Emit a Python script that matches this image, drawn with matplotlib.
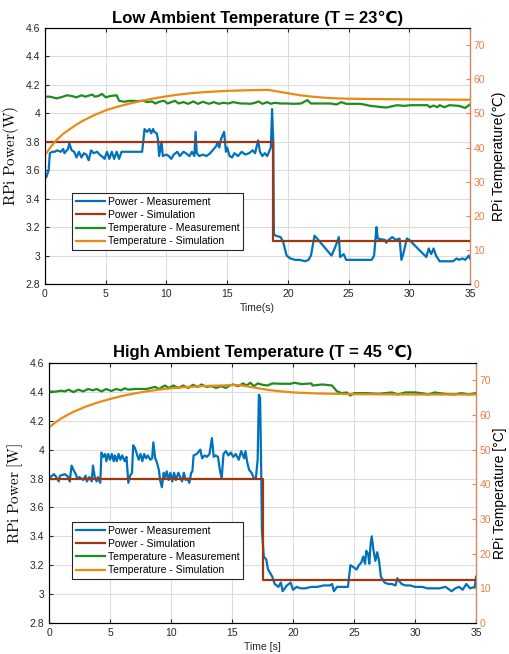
import matplotlib
matplotlib.use('Agg')
import matplotlib.pyplot as plt
from matplotlib.ticker import FuncFormatter, MultipleLocator

plt.rcParams['font.family'] = ['Liberation Sans', 'DejaVu Sans']
plt.rcParams['mathtext.fontset'] = 'cm'

# ---- low ambient (23 C) ----
low_pm_t = [0.0, 0.1, 0.3, 0.4, 0.6, 0.8, 1.0, 1.3, 1.5, 1.6, 1.9, 2.0, 2.2, 2.4, 2.6, 2.8,
            3.0, 3.2, 3.4, 3.6, 3.8, 4.0, 4.3, 4.5, 4.8, 4.9, 5.1, 5.3, 5.5, 5.7, 5.9, 6.1,
            6.3, 6.8, 7.5, 8.0, 8.2, 8.4, 8.6, 8.75, 8.9, 9.0, 9.2, 9.3, 9.4, 9.6, 9.7, 10.0,
            10.2, 10.4, 10.6, 10.9, 11.1, 11.4, 11.6, 11.9, 12.1, 12.3, 12.4, 12.5, 12.7, 13.0,
            13.3, 13.6, 13.8, 14.1, 14.2, 14.35, 14.5, 14.75, 14.9, 15.0, 15.2, 15.4, 15.6,
            15.9, 16.2, 16.5, 16.8, 17.1, 17.3, 17.55, 17.7, 17.9, 18.1, 18.3, 18.5, 18.6,
            18.7, 18.8, 18.85, 19.0, 19.4, 19.6, 19.9, 20.2, 20.6, 21.0, 21.4, 21.7, 21.9,
            22.2, 22.4, 23.0, 23.6, 23.9, 24.2, 24.3, 24.6, 24.8, 25.5, 26.2, 26.9, 27.1,
            27.3, 27.4, 28.0, 28.1, 28.3, 28.6, 28.9, 29.2, 29.35, 29.5, 29.8, 30.0, 30.7,
            31.4, 31.6, 31.8, 32.0, 32.2, 32.5, 33.0, 33.6, 33.9, 34.1, 34.4, 34.6, 34.9, 35.0]
low_pm_w = [3.58, 3.55, 3.60, 3.72, 3.73, 3.73, 3.74, 3.73, 3.75, 3.72, 3.75, 3.79, 3.74,
            3.73, 3.69, 3.73, 3.69, 3.72, 3.71, 3.67, 3.74, 3.72, 3.73, 3.71, 3.69, 3.68,
            3.73, 3.68, 3.73, 3.68, 3.73, 3.68, 3.73, 3.73, 3.73, 3.73, 3.89, 3.87, 3.89,
            3.86, 3.89, 3.87, 3.86, 3.82, 3.70, 3.80, 3.70, 3.71, 3.70, 3.68, 3.71, 3.73,
            3.70, 3.73, 3.72, 3.70, 3.73, 3.70, 3.87, 3.72, 3.70, 3.71, 3.70, 3.72, 3.74,
            3.77, 3.80, 3.76, 3.82, 3.87, 3.73, 3.76, 3.70, 3.69, 3.72, 3.70, 3.73, 3.71,
            3.72, 3.74, 3.72, 3.81, 3.73, 3.70, 3.72, 3.70, 3.74, 3.76, 4.03, 3.80, 3.15,
            3.14, 3.13, 3.10, 3.00, 2.98, 2.97, 2.97, 2.96, 2.97, 3.00, 3.14, 3.12, 3.06,
            3.00, 3.06, 3.13, 2.99, 3.01, 2.97, 2.97, 2.97, 2.97, 3.00, 3.20, 3.12, 3.11,
            3.09, 3.11, 3.13, 3.11, 3.12, 2.97, 3.01, 3.12, 3.11, 3.05, 2.99, 3.05, 3.01,
            3.05, 3.00, 2.96, 2.96, 2.96, 2.98, 2.97, 2.98, 2.97, 3.00, 2.98]
low_ps_t = [0, 18.8, 18.8, 35]
low_ps_w = [3.8, 3.8, 3.1, 3.1]
low_tm_t = [0.0, 0.4, 0.96, 1.5, 1.8, 2.2, 2.6, 3.0, 3.3, 3.7, 3.9, 4.1, 4.4, 4.7, 5.0, 5.4,
            5.9, 6.1, 6.5, 7.0, 7.6, 8.1, 8.4, 8.8, 9.1, 9.4, 9.8, 10.1, 10.4, 10.7, 11.0,
            11.4, 11.8, 12.2, 12.6, 13.0, 13.5, 13.9, 14.3, 14.7, 15.1, 15.5, 16.1, 16.5,
            16.9, 17.3, 17.6, 17.9, 18.3, 18.6, 18.9, 19.4, 19.9, 20.5, 21.1, 21.6, 21.9,
            22.7, 23.5, 24.0, 24.4, 24.8, 26.0, 26.8, 28.1, 28.6, 29.0, 29.6, 30.1, 31.5,
            31.7, 32.0, 32.3, 32.5, 32.9, 33.3, 34.1, 34.6, 35.0]
low_tm_c = [54.9, 54.9, 54.4, 54.9, 55.3, 55.1, 54.7, 55.3, 54.9, 55.3, 55.5, 54.9, 55.1,
            55.7, 54.7, 55.1, 55.3, 53.7, 53.4, 53.7, 53.6, 53.7, 53.3, 53.5, 52.9, 53.4,
            53.7, 52.9, 53.3, 53.7, 52.9, 53.3, 52.8, 53.5, 52.8, 53.4, 52.8, 53.3, 52.8,
            53.1, 52.9, 53.3, 52.9, 52.9, 52.8, 53.1, 53.5, 52.8, 53.3, 52.8, 53.1, 52.9,
            52.9, 52.8, 52.9, 53.9, 52.9, 52.9, 52.9, 52.6, 53.3, 52.8, 52.8, 52.2, 51.7,
            52.1, 52.4, 52.2, 52.4, 52.4, 51.8, 52.3, 51.8, 52.4, 51.8, 52.4, 52.2, 51.6, 52.6]
low_ts_t = [0, 0.5, 1, 1.5, 2, 2.5, 3, 3.5, 4, 5, 6, 7, 8, 9, 10, 11, 12, 13, 14, 15, 16,
            17, 18.4, 19, 20, 21, 22, 23, 24, 25, 27, 30, 35]
low_ts_c = [37.8, 40.3, 42.4, 44.0, 45.3, 46.5, 47.6, 48.5, 49.4, 50.9, 52.0, 52.9, 53.7,
            54.4, 55.0, 55.5, 55.9, 56.2, 56.4, 56.6, 56.7, 56.8, 56.9, 56.5, 55.9, 55.3,
            54.9, 54.6, 54.4, 54.3, 54.2, 54.1, 54.0]

# ---- high ambient (45 C) ----
high_pm_t = [0.0, 0.1, 0.4, 0.6, 0.8, 0.9, 1.3, 1.6, 1.7, 1.85, 2.0, 2.2, 2.3, 2.5, 2.8, 3.0,
             3.1, 3.3, 3.5, 3.6, 3.75, 3.9, 4.0, 4.2, 4.3, 4.45, 4.6, 4.7, 4.85, 5.0, 5.15,
             5.3, 5.4, 5.55, 5.7, 5.85, 6.0, 6.2, 6.35, 6.5, 6.65, 6.8, 6.9, 7.05, 7.2, 7.35,
             7.5, 7.65, 7.8, 7.95, 8.1, 8.3, 8.45, 8.55, 8.7, 8.85, 9.0, 9.1, 9.25, 9.4, 9.5,
             9.65, 9.8, 9.95, 10.1, 10.25, 10.4, 10.6, 10.75, 10.9, 11.05, 11.2, 11.35, 11.5,
             11.65, 11.75, 11.85, 12.1, 12.4, 12.55, 12.75, 12.95, 13.15, 13.35, 13.5, 13.65,
             13.85, 14.0, 14.15, 14.3, 14.5, 14.7, 14.9, 15.1, 15.3, 15.55, 15.75, 16.0, 16.1,
             16.25, 16.4, 16.6, 16.8, 16.95, 17.1, 17.2, 17.3, 17.4, 17.45, 17.6, 17.8, 17.95,
             18.1, 18.3, 18.5, 18.8, 19.0, 19.15, 19.5, 19.8, 20.0, 20.3, 20.6, 21.0, 21.5,
             22.0, 22.5, 23.0, 23.2, 23.35, 23.6, 24.0, 24.5, 24.7, 24.9, 25.2, 25.4, 25.6,
             25.75, 25.9, 26.0, 26.15, 26.25, 26.35, 26.45, 26.6, 26.75, 26.9, 27.05, 27.2,
             27.5, 27.8, 28.1, 28.4, 28.55, 28.7, 28.9, 29.2, 29.6, 30.0, 30.6, 31.0, 31.4,
             32.0, 32.5, 33.0, 33.3, 33.6, 33.9, 34.2, 34.5, 34.9, 35.0]
high_pm_w = [3.79, 3.81, 3.83, 3.81, 3.78, 3.82, 3.83, 3.81, 3.78, 3.89, 3.86, 3.83, 3.80,
             3.81, 3.79, 3.82, 3.78, 3.81, 3.78, 3.89, 3.81, 3.78, 3.81, 3.77, 3.98, 3.95,
             3.97, 3.92, 3.97, 3.93, 3.97, 3.92, 3.96, 3.92, 3.97, 3.93, 3.96, 3.92, 3.95,
             3.77, 3.82, 3.84, 4.03, 4.01, 3.97, 3.93, 3.97, 3.92, 3.97, 3.94, 3.96, 3.93,
             3.94, 4.05, 3.94, 3.91, 3.86, 3.79, 3.74, 3.84, 3.80, 3.85, 3.79, 3.84, 3.78,
             3.84, 3.79, 3.84, 3.81, 3.78, 3.84, 3.79, 3.80, 3.77, 3.84, 3.85, 3.96, 3.97,
             4.00, 3.94, 3.96, 3.95, 3.97, 4.08, 3.95, 3.96, 3.95, 3.86, 3.80, 3.97, 3.99,
             3.96, 3.98, 3.95, 3.97, 3.93, 3.99, 3.94, 3.99, 3.91, 3.86, 3.84, 3.80, 3.80,
             3.93, 4.38, 4.36, 3.80, 3.44, 3.26, 3.24, 3.17, 3.15, 3.12, 3.07, 3.05, 3.08,
             3.02, 3.06, 3.08, 3.03, 3.05, 3.04, 3.04, 3.05, 3.05, 3.06, 3.06, 3.07, 3.02,
             3.05, 3.05, 3.05, 3.20, 3.19, 3.17, 3.20, 3.22, 3.26, 3.21, 3.30, 3.28, 3.21,
             3.34, 3.40, 3.30, 3.23, 3.29, 3.23, 3.12, 3.08, 3.07, 3.07, 3.06, 3.11, 3.09,
             3.07, 3.06, 3.06, 3.05, 3.05, 3.04, 3.04, 3.04, 3.05, 3.02, 3.04, 3.05, 3.03,
             3.07, 3.04, 3.05, 3.12]
high_ps_t = [0, 17.55, 17.55, 35]
high_ps_w = [3.8, 3.8, 3.1, 3.1]
high_tm_t = [0.0, 0.5, 1.0, 1.3, 1.6, 2.0, 2.4, 2.8, 3.2, 3.6, 3.9, 4.3, 4.7, 5.1, 5.5, 5.9,
             6.2, 6.5, 7.0, 8.0, 8.7, 9.0, 9.5, 9.8, 10.2, 10.6, 11.0, 11.4, 11.8, 12.2, 12.5,
             12.9, 13.3, 13.7, 14.1, 14.5, 14.8, 15.1, 15.5, 15.9, 16.2, 16.5, 16.8, 17.1,
             17.5, 17.9, 18.3, 19.0, 19.8, 20.1, 20.7, 21.5, 21.6, 22.4, 23.2, 23.6, 24.0,
             24.4, 24.7, 25.0, 26.0, 27.0, 28.1, 28.6, 29.2, 30.0, 30.5, 31.1, 31.6, 32.4,
             33.2, 33.8, 34.4, 35.0]
high_tm_c = [66.8, 66.7, 67.0, 66.8, 67.3, 66.6, 67.3, 66.8, 67.5, 67.1, 67.5, 66.8, 67.5,
             66.9, 67.5, 67.1, 67.7, 67.3, 67.5, 67.5, 68.1, 67.5, 68.5, 67.8, 68.5, 67.8,
             68.5, 67.8, 68.7, 68.1, 68.8, 68.1, 68.3, 67.8, 68.3, 67.8, 68.5, 68.8, 68.3,
             69.1, 68.5, 69.3, 68.3, 69.1, 68.7, 68.5, 69.1, 69.0, 69.0, 69.3, 68.9, 69.1,
             68.5, 68.8, 68.5, 66.8, 66.3, 66.5, 65.6, 66.3, 66.3, 66.1, 66.5, 65.9, 66.5,
             66.5, 66.3, 65.9, 66.5, 66.1, 65.9, 66.3, 65.9, 66.3]
high_ts_t = [0, 0.5, 1, 1.5, 2, 3, 4, 5, 6, 7, 8, 9, 10, 11, 12, 13, 14, 15, 15.6, 16, 17,
             18, 19, 20, 22, 25, 30, 35]
high_ts_c = [56.4, 57.8, 59.0, 60.0, 60.9, 62.4, 63.6, 64.6, 65.5, 66.2, 66.8, 67.3, 67.7,
             68.0, 68.2, 68.4, 68.5, 68.6, 68.6, 68.4, 67.8, 67.2, 66.8, 66.5, 66.2, 66.0,
             65.9, 65.9]

legend_labels = ['Power - Measurement', 'Power - Simulation',
                 'Temperature - Measurement', 'Temperature - Simulation']

C_BLUE = '#0072BD'
C_BROWN = '#A2360E'
C_GREEN = '#1E8C1E'
C_ORANGE = '#EA8A12'
C_RIGHT = '#E8804F'
C_AX = '#262626'


def draw_panel(ax, title, ylab, y2lab, xlab, pm, ps, tm, ts, leg_anchor, pad2):
    ax.plot(pm[0], pm[1], color=C_BLUE, lw=1.6, zorder=3)
    ax.plot(ps[0], ps[1], color=C_BROWN, lw=1.6, zorder=4)
    ax.set_xlim(0, 35)
    ax.set_ylim(2.8, 4.6)
    ax.xaxis.set_major_locator(MultipleLocator(5))
    ax.yaxis.set_major_locator(MultipleLocator(0.2))
    ax.yaxis.set_major_formatter(FuncFormatter(lambda v, p: '%g' % round(v, 2)))
    ax.grid(True, color='#DCDCDC', lw=0.8)
    ax.set_axisbelow(True)
    ax.tick_params(direction='in', length=3, labelsize=7.5, colors=C_AX,
                   top=True, right=False)
    for s in ['left', 'bottom', 'top']:
        ax.spines[s].set_color(C_AX)
    ax.set_title(title, fontsize=12, fontweight='bold', pad=4)
    ax.set_ylabel(ylab, fontsize=11, labelpad=3)
    ax.set_xlabel(xlab, fontsize=7.5, labelpad=3, color=C_AX)

    ax2 = ax.twinx()
    ax2.plot(tm[0], tm[1], color=C_GREEN, lw=1.6)
    ax2.plot(ts[0], ts[1], color=C_ORANGE, lw=1.6)
    ax2.set_ylim(0, 75)
    ax2.yaxis.set_major_locator(MultipleLocator(10))
    ax2.tick_params(direction='in', length=3, labelsize=7.5, colors=C_RIGHT, pad=2.5)
    ax2.spines['right'].set_color(C_RIGHT)
    ax2.set_ylabel(y2lab, fontsize=10, color='black', labelpad=pad2)

    handles = ax.get_lines() + ax2.get_lines()
    leg = ax2.legend(handles, legend_labels, loc='lower left', bbox_to_anchor=leg_anchor,
                     fontsize=7.5, fancybox=False, framealpha=1, edgecolor=C_AX,
                     handlelength=2.8, labelspacing=0.3, borderpad=0.35,
                     handletextpad=0.3, borderaxespad=0)
    leg.get_frame().set_linewidth(0.8)


fig = plt.figure(figsize=(5.09, 6.54), dpi=100)
ax_top = fig.add_axes([0.0884, 0.5657, 0.835, 0.3914])
ax_bot = fig.add_axes([0.0963, 0.0474, 0.839, 0.3976])

draw_panel(ax_top, 'Low Ambient Temperature (T = 23\u2103)',
           r'$\mathrm{RPi\ Power(W)}$', 'RPi Temperature(\u2103)', 'Time(s)',
           (low_pm_t, low_pm_w), (low_ps_t, low_ps_w),
           (low_tm_t, low_tm_c), (low_ts_t, low_ts_c), (0.064, 0.133), 5)
draw_panel(ax_bot, 'High Ambient Temperature (T = 45 \u2103)',
           r'$\mathrm{RPi\ Power\ [W]}$', 'RPi Temperature [\u00b0C]', 'Time [s]',
           (high_pm_t, high_pm_w), (high_ps_t, high_ps_w),
           (high_tm_t, high_tm_c), (high_ts_t, high_ts_c), (0.054, 0.17), 1)

fig.savefig('out.png', dpi=100)
